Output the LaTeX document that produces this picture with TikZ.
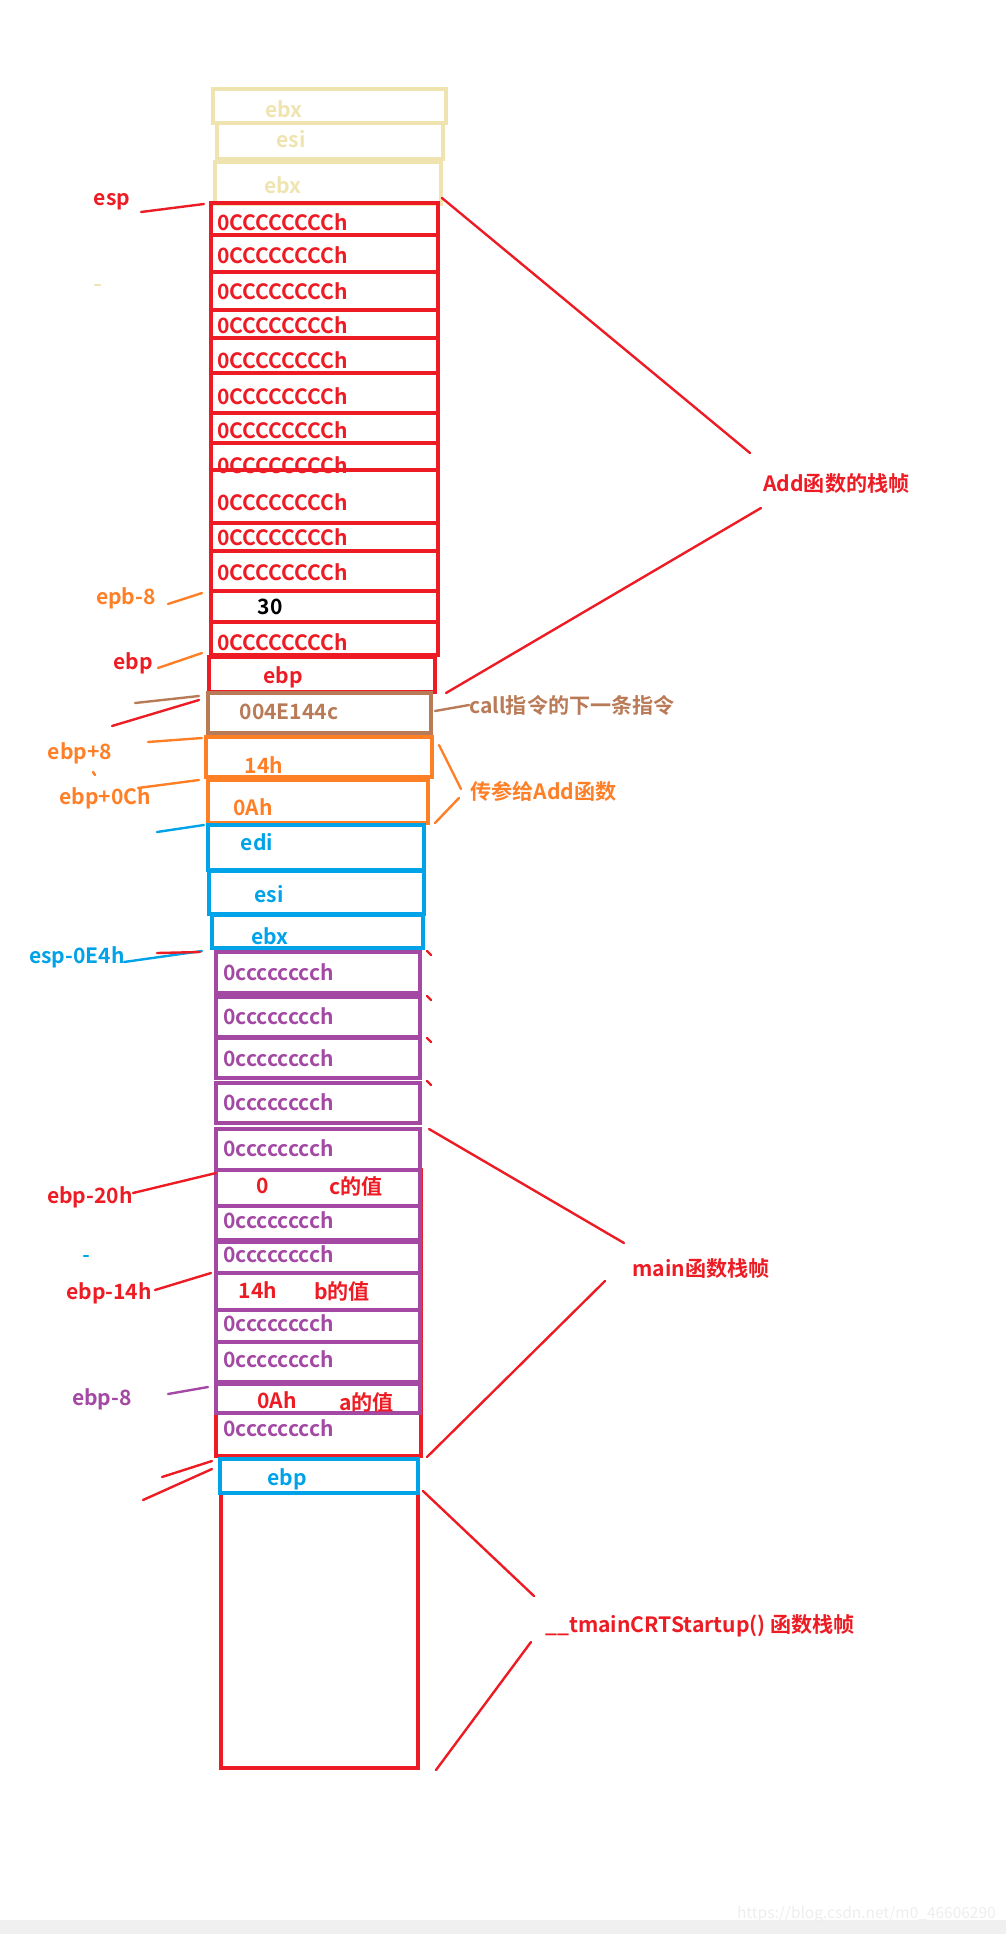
\documentclass[tikz,border=0pt]{standalone}
\usepackage{fontspec}
\setmainfont{Noto Sans CJK SC}[BoldFont=* Bold]
\usepackage{tikz}
\usetikzlibrary{calc}
\definecolor{paintred}{HTML}{ED1C24}
\definecolor{paleyellow}{HTML}{EFE4B0}
\definecolor{paintbrown}{HTML}{B97A57}
\definecolor{paintorange}{HTML}{FF7F27}
\definecolor{paintblue}{HTML}{00A2E8}
\definecolor{paintpurple}{HTML}{A349A4}

\begin{document}
\begin{tikzpicture}[
    x=0.025cm, y=-0.025cm,
    font=\fontsize{15pt}{17pt}\selectfont\bfseries,
    cellline/.style={line width=2.5pt},
    wire/.style={line width=1.7pt,line cap=round},
    celltext/.style={inner sep=0pt,anchor=west},
    regtext/.style={inner sep=0pt},
    sidelabel/.style={inner sep=0pt,anchor=west}
  ]
    \useasboundingbox (0,0) rectangle (1006,1934);
    \fill[black!6] (0,1920) rectangle (1006,1934);
    \node[font=\fontsize{11pt}{13pt}\selectfont,gray!14,anchor=east,inner sep=0pt]
      (mark) at (996,1914) {https://blog.csdn.net/m0\_46606290};

    % registers pushed by Add
    \draw[cellline,paleyellow] (213,89) rectangle (446,123);
    \draw[cellline,paleyellow] (217,123) rectangle (443,159);
    \draw[cellline,paleyellow] (215,162) rectangle (441,204);
    \node[regtext,paleyellow] (pebx) at (284,109) {ebx};
    \node[regtext,paleyellow] (pesi) at (291,139) {esi};
    \node[regtext,paleyellow] (pebxb) at (283,185) {ebx};

    % Add frame
    \foreach \i/\top/\bot/\ty in {1/203/235/222,2/235/272/255,3/272/310/291,
        4/310/338/325,5/338/373/360,6/373/413/396,7/413/443/430,8/443/470/465,
        9/470/523/502,10/523/551/537,11/551/591/572,13/622/655/642} {
      \draw[cellline,paintred] (211,\top) rectangle (438,\bot);
      \node[celltext,paintred] (addcc\i) at (217,\ty) {0CCCCCCCCh};
    }
    \draw[cellline,paintred] (211,591) rectangle (438,622);
    \node[regtext] (thirty) at (270,607) {30};
    \draw[cellline,paintred] (209,657) rectangle (435,692);
    \node[regtext,paintred] (addebp) at (283,677) {ebp};
    \draw[cellline,paintbrown] (208,693) rectangle (431,733);
    \node[regtext,paintbrown] (retaddr) at (289,712) {004E144c};
    \draw[cellline,paintorange] (206,737) rectangle (432,777);
    \node[regtext,paintorange] (argb) at (264,765) {14h};
    \draw[cellline,paintorange] (208,780) rectangle (428,823);
    \node[regtext,paintorange] (arga) at (253,807) {0Ah};

    % registers pushed by main
    \draw[cellline,paintblue] (208,825) rectangle (424,870);
    \draw[cellline,paintblue] (209,871) rectangle (424,914);
    \draw[cellline,paintblue] (212,915) rectangle (423,948);
    \node[regtext,paintblue] (medi) at (257,842) {edi};
    \node[regtext,paintblue] (mesi) at (269,894) {esi};
    \node[regtext,paintblue] (mebx) at (270,936) {ebx};

    % main frame
    \draw[cellline,paintred] (216,1170) rectangle (421,1456);
    \foreach \top/\bot in {952/993,997/1037,1038/1078,1083/1123,1129/1170,
        1170/1206,1206/1240,1242/1273,1273/1310,1310/1342,1342/1382,1384/1413}
      \draw[cellline,paintpurple] (216,\top) rectangle (420,\bot);
    \foreach \i/\ty in {1/972,2/1016,3/1058,4/1102,5/1148,7/1220,8/1254,
        10/1323,11/1359,13/1428}
      \node[celltext,paintpurple] (maincc\i) at (223,\ty) {0cccccccch};
    \node[regtext,paintred] (cval) at (263,1186) {0};
    \node[sidelabel,paintred] (cname) at (329,1186) {c的值};
    \node[regtext,paintred] (bval) at (258,1290) {14h};
    \node[sidelabel,paintred] (bname) at (314,1291) {b的值};
    \node[regtext,paintred] (aval) at (277,1400) {0Ah};
    \node[sidelabel,paintred] (aname) at (339,1402) {a的值};
    \foreach \yy in {951,996,1038,1081}
      \draw[wire,paintred] (427,\yy) -- ++(4,4);

    % __tmainCRTStartup frame
    \draw[cellline,paintred] (221,1493) rectangle (418,1768);
    \draw[cellline,paintblue] (220,1459) rectangle (418,1493);
    \node[regtext,paintblue] (oldebp) at (287,1479) {ebp};

    % left labels
    \node[regtext,paintred] (espl) at (112,202) {esp};
    \node[regtext,paintorange] (epbl) at (126,598) {epb-8};
    \node[regtext,paintred] (ebpl) at (133,663) {ebp};
    \node[regtext,paintorange] (ebpeight) at (80,753) {ebp+8};
    \node[regtext,paintorange] (ebptwelve) at (105,798) {ebp+0Ch};
    \node[regtext,paintblue] (espsub) at (77,957) {esp-0E4h};
    \node[regtext,paintred] (ebpsubc) at (90,1197) {ebp-20h};
    \node[regtext,paintred] (ebpsubb) at (109,1293) {ebp-14h};
    \node[regtext,paintpurple] (ebpsuba) at (102,1399) {ebp-8};
    \draw[wire,paleyellow] (95,285) -- (100,285);
    \draw[wire,paintorange] (93,772) -- (95,775);
    \draw[wire,paintblue] (84,1256) -- (88,1256);

    % right labels
    \node[sidelabel,paintred] (addlbl) at (763,484) {Add函数的栈帧};
    \node[sidelabel,paintbrown] (calllbl) at (469,705) {call指令的下一条指令};
    \node[sidelabel,paintorange] (parlbl) at (470,791) {传参给Add函数};
    \node[sidelabel,paintred] (mainlbl) at (632,1269) {main函数栈帧};
    \node[sidelabel,paintred] (crtlbl) at (545,1626) {\_\_tmainCRTStartup() 函数栈帧};

    \coordinate (espA) at (141,212);   \coordinate (espB) at (204,204);
    \coordinate (epbA) at (168,604);   \coordinate (epbB) at (202,593);
    \coordinate (ebpA) at (158,668);   \coordinate (ebpB) at (202,653);
    \coordinate (retA) at (135,703);   \coordinate (retB) at (199,696);
    \coordinate (retC) at (112,726);   \coordinate (retD) at (199,700);
    \coordinate (argA) at (148,742);   \coordinate (argB) at (202,738);
    \coordinate (argC) at (138,788);   \coordinate (argD) at (199,780);
    \coordinate (ediA) at (157,832);   \coordinate (ediB) at (204,825);
    \coordinate (espeA) at (124,962);  \coordinate (espeB) at (202,951);
    \coordinate (espeC) at (157,953);  \coordinate (espeD) at (200,952);
    \coordinate (cvalA) at (133,1193); \coordinate (cvalB) at (216,1173);
    \coordinate (bvalA) at (155,1290); \coordinate (bvalB) at (211,1273);
    \coordinate (avalA) at (168,1394); \coordinate (avalB) at (208,1387);
    \coordinate (oldA) at (162,1477);  \coordinate (oldB) at (212,1461);
    \coordinate (oldC) at (143,1500);  \coordinate (oldD) at (212,1469);

    \coordinate (addA) at (442,198);   \coordinate (addB) at (750,453);
    \coordinate (addC) at (761,508);   \coordinate (addD) at (446,693);
    \coordinate (callA) at (435,711);
    \coordinate (parA) at (439,745);   \coordinate (parB) at (461,789);
    \coordinate (parC) at (459,798);   \coordinate (parD) at (435,823);
    \coordinate (mainA) at (429,1129); \coordinate (mainB) at (624,1243);
    \coordinate (mainC) at (605,1281); \coordinate (mainD) at (427,1457);
    \coordinate (crtA) at (423,1491);  \coordinate (crtB) at (534,1596);
    \coordinate (crtC) at (531,1642);  \coordinate (crtD) at (436,1770);

    \draw[wire,paintred] (espA) -- (espB);
    \draw[wire,paintorange] (epbA) -- (epbB);
    \draw[wire,paintorange] (ebpA) -- (ebpB);
    \draw[wire,paintbrown] (retA) -- (retB);
    \draw[wire,paintred] (retC) -- (retD);
    \draw[wire,paintorange] (argA) -- (argB);
    \draw[wire,paintorange] (argC) -- (argD);
    \draw[wire,paintblue] (ediA) -- (ediB);
    \draw[wire,paintblue] (espeA) -- (espeB);
    \draw[wire,paintred] (espeC) -- (espeD);
    \draw[wire,paintred] (cvalA) -- (cvalB);
    \draw[wire,paintred] (bvalA) -- (bvalB);
    \draw[wire,paintpurple] (avalA) -- (avalB);
    \draw[wire,paintred] (oldA) -- (oldB);
    \draw[wire,paintred] (oldC) -- (oldD);

    \draw[wire,paintred] (addA) -- (addB);
    \draw[wire,paintred] (addC) -- (addD);
    \draw[wire,paintbrown] (callA) -- (calllbl.west);
    \draw[wire,paintorange] (parA) -- (parB);
    \draw[wire,paintorange] (parC) -- (parD);
    \draw[wire,paintred] (mainA) -- (mainB);
    \draw[wire,paintred] (mainC) -- (mainD);
    \draw[wire,paintred] (crtA) -- (crtB);
    \draw[wire,paintred] (crtC) -- (crtD);
  \end{tikzpicture}
\end{document}
